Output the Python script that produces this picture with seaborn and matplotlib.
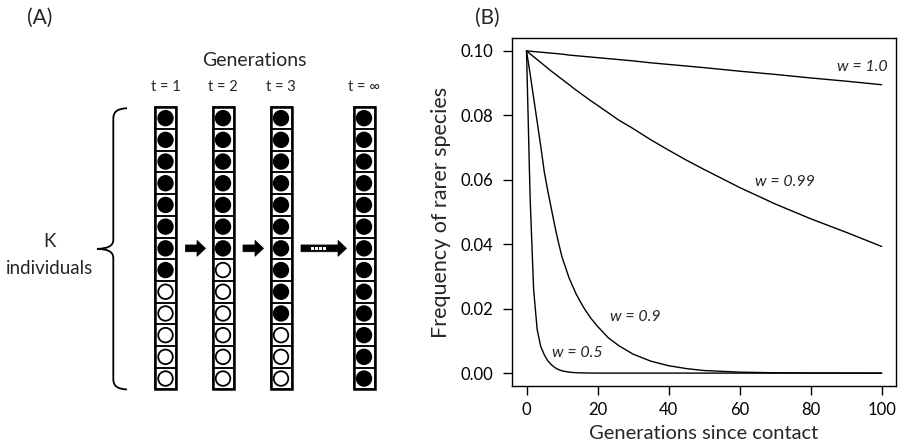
import matplotlib
matplotlib.use("Agg")
import matplotlib.pyplot as plt
from matplotlib.patches import Rectangle, Polygon, PathPatch
from matplotlib.path import Path
import pandas as pd
import seaborn as sns

# ---------------- data ----------------
# Panel A: K individuals per generation, number belonging to the common species
gen_labels = ["t = 1", "t = 2", "t = 3", "t = \u221e"]
filled_counts = [8, 7, 10, 13]
K = 13
arrow_kinds = ["solid", "solid", "dashed"]

# Panel B: frequency of the rarer species over time for each hybrid fitness w
generations = [0, 1, 2, 3, 4, 5, 6, 7, 8, 9, 10, 12, 14, 16, 18, 20, 23, 26, 30, 35, 40, 45,
               50, 60, 70, 80, 90, 100]
freq_w100 = [0.1, 0.0999, 0.0998, 0.0997, 0.0996, 0.0995, 0.0994, 0.0993, 0.0992, 0.0991,
             0.0990, 0.0987, 0.0985, 0.0983, 0.0981, 0.0979, 0.0976, 0.0973, 0.0969, 0.0963,
             0.0958, 0.0953, 0.0948, 0.0937, 0.0927, 0.0916, 0.0906, 0.0895]
freq_w099 = [0.1, 0.0991, 0.0982, 0.0973, 0.0964, 0.0955, 0.0946, 0.0937, 0.0929, 0.0920,
             0.0912, 0.0895, 0.0878, 0.0862, 0.0846, 0.0831, 0.0808, 0.0785, 0.0759, 0.0724,
             0.0692, 0.0661, 0.0632, 0.0576, 0.0525, 0.0479, 0.0437, 0.0393]
freq_w090 = [0.1, 0.093, 0.0855, 0.078, 0.0705, 0.0625, 0.0565, 0.051, 0.0455, 0.0405,
             0.036, 0.0295, 0.0245, 0.0205, 0.0172, 0.0145, 0.011, 0.0085, 0.0059, 0.0037,
             0.0023, 0.0014, 0.0008, 0.0003, 0.0001, 0.00004, 0.00001, 0.0]
freq_w050 = [0.1, 0.055, 0.026, 0.0135, 0.0083, 0.0057, 0.0038, 0.0026, 0.0017, 0.0011,
             0.0007, 0.0003, 0.00012, 0.00005, 0.00002, 0.0, 0.0, 0.0, 0.0, 0.0,
             0.0, 0.0, 0.0, 0.0, 0.0, 0.0, 0.0, 0.0]
w_labels = ["w = 1.0", "w = 0.99", "w = 0.9", "w = 0.5"]
label_x = [101.8, 72.8, 30.5, 14.2]
label_y = [0.0950, 0.0592, 0.0173, 0.0061]
label_ha = ["right", "center", "center", "center"]

# ---------------- style ----------------
sns.set_theme(style="white")
plt.rcParams["font.family"] = ["Lato", "DejaVu Sans"]
plt.rcParams["axes.linewidth"] = 1.0

fig = plt.figure(figsize=(9, 4.47), dpi=100)

# ---------------- panel A: schematic in pixel units ----------------
axA = fig.add_axes([0, 0, 1, 1])

col_centers = [165.5, 223.0, 281.0, 364.0]
cell_w, cell_h = 21.0, 21.7
top = 107.3

rows = []
for c, n_fill, cx in zip(gen_labels, filled_counts, col_centers):
    for i in range(K):
        cy = top + (i + 0.5) * cell_h
        rows.append({"gen": c, "x": cx, "y": cy,
                     "kind": "common" if i < n_fill else "rare"})
        axA.add_patch(Rectangle((cx - cell_w / 2, top + i * cell_h), cell_w, cell_h,
                                fill=False, ec="black", lw=1.1))
    axA.add_patch(Rectangle((cx - cell_w / 2, top), cell_w, K * cell_h,
                            fill=False, ec="black", lw=1.8))
    axA.text(cx, 86.7, c, ha="center", va="center", fontsize=10.5)
cells = pd.DataFrame(rows)
sns.scatterplot(data=cells, x="x", y="y", hue="kind",
                palette={"common": "black", "rare": "white"},
                edgecolor="black", linewidth=1.3, s=110, legend=False, ax=axA)
axA.set_xlim(0, 900)
axA.set_ylim(447, 0)
axA.axis("off")

axA.text(254, 60, "Generations", ha="center", va="center", fontsize=14)

# arrows between columns
arrow_y = top + 6.5 * cell_h
for kind, c0, c1 in zip(arrow_kinds, col_centers[:-1], col_centers[1:]):
    x0 = c0 + cell_w / 2 + 9.5
    x1 = c1 - cell_w / 2 - 7.0
    hl, sh, hh = 8.5, 3.4, 8.0
    pts = [(x0, arrow_y - sh), (x1 - hl, arrow_y - sh), (x1 - hl, arrow_y - hh),
           (x1, arrow_y), (x1 - hl, arrow_y + hh), (x1 - hl, arrow_y + sh), (x0, arrow_y + sh)]
    axA.add_patch(Polygon(pts, closed=True, fc="black", ec="black", lw=0.5))
    if kind == "dashed":
        for k in range(4):
            axA.add_patch(Rectangle((x0 + 9.5 + k * 4.2, arrow_y - 1.6), 3.0, 3.2,
                                    fc="white", ec="none"))

# brace grouping the K individuals
bx, tip_x = 113.3, 97.0
y_top, y_bot = top + 1.0, top + K * cell_h
y_mid = (y_top + y_bot) / 2
verts = [(127, y_top), (bx, y_top), (bx, y_top + 10),
         (bx, y_mid - 9),
         (bx, y_mid), (tip_x, y_mid),
         (bx, y_mid), (bx, y_mid + 9),
         (bx, y_bot - 10),
         (bx, y_bot), (127, y_bot)]
codes = [Path.MOVETO, Path.CURVE3, Path.CURVE3, Path.LINETO, Path.CURVE3, Path.CURVE3,
         Path.CURVE3, Path.CURVE3, Path.LINETO, Path.CURVE3, Path.CURVE3]
axA.add_patch(PathPatch(Path(verts, codes), fill=False, ec="black", lw=1.3))
axA.text(49, 241.7, "K", ha="center", va="center", fontsize=13.5)
axA.text(49.7, 268, "individuals", ha="center", va="center", fontsize=13.5)

axA.text(40, 17.5, "(A)", ha="center", va="center", fontsize=15)
axA.text(487, 17.5, "(B)", ha="center", va="center", fontsize=15)

# ---------------- panel B ----------------
axB = fig.add_axes([512.3 / 900, 1 - 386 / 447, (895.9 - 512.3) / 900, (386 - 38) / 447])
series = {w_labels[0]: freq_w100, w_labels[1]: freq_w099,
          w_labels[2]: freq_w090, w_labels[3]: freq_w050}
df = pd.DataFrame([{"gen": g, "freq": f, "w": w}
                   for w, vals in series.items() for g, f in zip(generations, vals)])
sns.lineplot(data=df, x="gen", y="freq", hue="w",
             palette={w: "black" for w in w_labels}, estimator=None,
             lw=1.0, legend=False, ax=axB)

for txt, lx, ly, ha in zip(w_labels, label_x, label_y, label_ha):
    axB.text(lx, ly, txt, ha=ha, va="center", fontsize=11.5, style="italic")

axB.set_xlim(-4, 104)
axB.set_ylim(-0.004, 0.104)
axB.set_xticks([0, 20, 40, 60, 80, 100])
axB.set_yticks([0.0, 0.02, 0.04, 0.06, 0.08, 0.10])
axB.set_yticklabels([f"{v:.2f}" for v in [0.0, 0.02, 0.04, 0.06, 0.08, 0.10]])
axB.tick_params(axis="both", direction="out", length=6.5, width=1.0,
                labelsize=12, colors="black", bottom=True, left=True)
axB.tick_params(axis="y", pad=7)
axB.tick_params(axis="x", pad=5)
for s in axB.spines.values():
    s.set_visible(True)
    s.set_color("black")
    s.set_linewidth(1.0)
axB.set_xlabel("Generations since contact", fontsize=14.5, labelpad=5)
axB.set_ylabel("Frequency of rarer species", fontsize=15.5, labelpad=7)

fig.savefig("out.png", dpi=100)
